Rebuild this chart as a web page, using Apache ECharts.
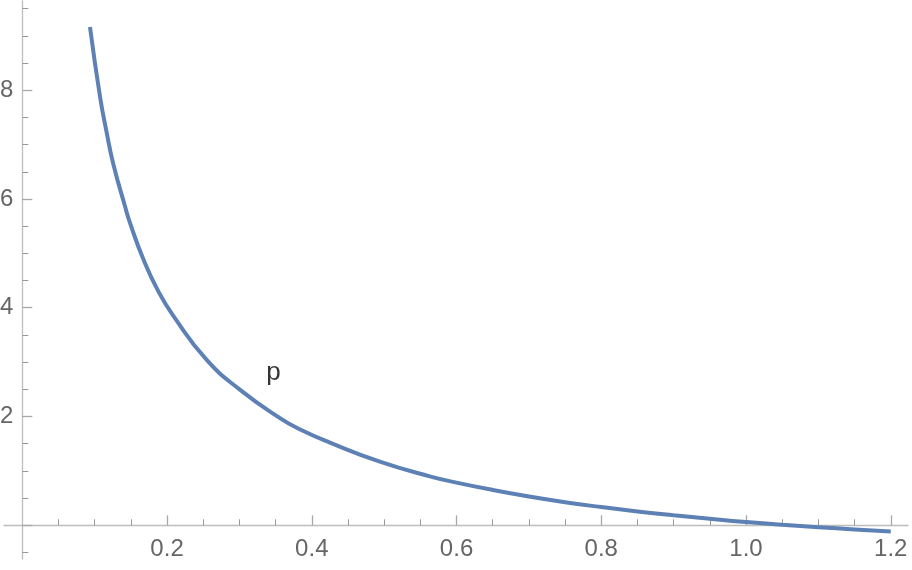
<!DOCTYPE html>
<html>
<head>
<meta charset="utf-8">
<script src="https://cdn.jsdelivr.net/npm/echarts@6/dist/echarts.min.js"></script>
<style>html,body{margin:0;padding:0;background:#fff}#c{width:912px;height:570px}</style>
</head>
<body>
<div id="c"></div>
<script>
// Curve samples
const xs = [0.0935, 0.1075, 0.1166, 0.1258, 0.142, 0.1488, 0.167, 0.188, 0.2087, 0.2548, 0.301, 0.356, 0.384, 0.425, 0.494, 0.563, 0.6, 0.65, 0.7, 0.75, 0.8, 0.85, 0.9, 0.95, 1.0, 1.05, 1.1, 1.15, 1.2];
const ps = [9.16, 7.87, 7.22, 6.64, 5.86, 5.56, 4.9, 4.3, 3.85, 3.04, 2.49, 1.97, 1.76, 1.52, 1.17, 0.90, 0.785, 0.65, 0.53, 0.425, 0.335, 0.255, 0.185, 0.12, 0.06, 0.01, -0.035, -0.077, -0.115];
// Axis ticks
const xMajor = [0.2, 0.4, 0.6, 0.8, 1.0, 1.2];
const xMinor = [0.05, 0.1, 0.15, 0.25, 0.3, 0.35, 0.45, 0.5, 0.55, 0.65, 0.7, 0.75, 0.85, 0.9, 0.95, 1.05, 1.1, 1.15];
const yMajor = [0, 2, 4, 6, 8];
const yLabels = [2, 4, 6, 8];
const yMinor = [-0.5, 0.5, 1, 1.5, 2.5, 3, 3.5, 4.5, 5, 5.5, 6.5, 7, 7.5, 8.5, 9, 9.5];
// Curve label
const curveName = 'p';
const labelAt = [0.347, 2.8];

const X_MIN = -0.0253, X_MAX = 1.2238, Y_MIN = -0.62, Y_MAX = 9.64;
const GRID = { left: 4, right: 4, top: 1, bottom: 11 };
const W = 912, H = 570;
const FONT = 'Liberation Sans, Arial, sans-serif';
const chart = echarts.init(document.getElementById('c'));
const lineColor = '#bdbdbd';
const tickColor = '#a8a8a8';

// distance of the zero lines from the grid edges (for the label-only axes)
const gw = W - GRID.left - GRID.right, gh = H - GRID.top - GRID.bottom;
const xZeroFromLeft = (0 - X_MIN) / (X_MAX - X_MIN) * gw;
const yZeroFromBottom = (0 - Y_MIN) / (Y_MAX - Y_MIN) * gh;

chart.setOption({
  animation: false,
  backgroundColor: '#ffffff',
  grid: Object.assign({ containLabel: false, outerBounds: { left: -200, right: -200, top: -200, bottom: -200 } }, GRID),
  xAxis: [
    {
      type: 'value', min: X_MIN, max: X_MAX, position: 'bottom',
      splitLine: { show: false },
      axisLine: { show: true, onZero: true, lineStyle: { color: lineColor, width: 1.3 } },
      axisTick: { show: true, inside: true, length: 10, customValues: xMajor, lineStyle: { color: tickColor, width: 1.3 } },
      axisLabel: { show: false }
    },
    {
      type: 'value', min: X_MIN, max: X_MAX, position: 'bottom',
      splitLine: { show: false },
      axisLine: { show: false, onZero: true },
      axisTick: { show: true, inside: true, length: 6, customValues: xMinor, lineStyle: { color: '#999999', width: 1 } },
      axisLabel: { show: false }
    },
    {
      type: 'value', min: X_MIN, max: X_MAX, position: 'bottom', offset: -yZeroFromBottom,
      splitLine: { show: false },
      axisLine: { show: false, onZero: false },
      axisTick: { show: false },
      axisLabel: { show: true, customValues: xMajor, margin: 12, color: '#666666', fontSize: 24, fontFamily: FONT, formatter: v => v.toFixed(1) }
    }
  ],
  yAxis: [
    {
      type: 'value', min: Y_MIN, max: Y_MAX, position: 'left',
      splitLine: { show: false },
      axisLine: { show: true, onZero: true, lineStyle: { color: lineColor, width: 1.3 } },
      axisTick: { show: true, inside: true, length: 10, customValues: yMajor, lineStyle: { color: tickColor, width: 1.3 } },
      axisLabel: { show: false }
    },
    {
      type: 'value', min: Y_MIN, max: Y_MAX, position: 'left',
      splitLine: { show: false },
      axisLine: { show: false, onZero: true },
      axisTick: { show: true, inside: true, length: 6, customValues: yMinor, lineStyle: { color: '#999999', width: 1 } },
      axisLabel: { show: false }
    },
    {
      type: 'value', min: Y_MIN, max: Y_MAX, position: 'left', offset: -xZeroFromLeft,
      splitLine: { show: false },
      axisLine: { show: false, onZero: false },
      axisTick: { show: false },
      axisLabel: { show: true, customValues: yLabels, margin: 9, color: '#666666', fontSize: 24, fontFamily: FONT }
    }
  ],
  series: [
    {
      type: 'line', xAxisIndex: 0, yAxisIndex: 0,
      data: xs.map((x, i) => [x, ps[i]]),
      showSymbol: false, smooth: 0.5,
      lineStyle: { color: '#5E81B5', width: 4 },
      z: 5
    },
    {
      type: 'scatter', xAxisIndex: 0, yAxisIndex: 0,
      data: [labelAt], symbolSize: 0, silent: true,
      label: { show: true, position: 'inside', formatter: curveName, color: '#000000', fontSize: 26, fontFamily: FONT },
      z: 6
    }
  ]
});
</script>
</body>
</html>
